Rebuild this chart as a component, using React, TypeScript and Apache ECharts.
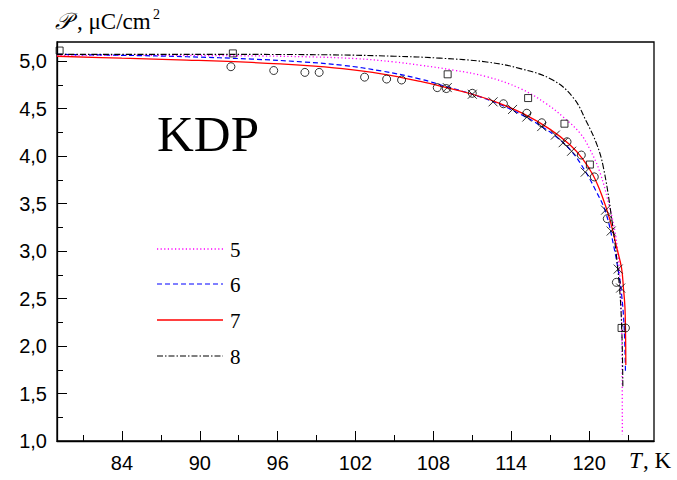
import React, { useEffect, useRef } from "react";
import * as echarts from "echarts";

// Curve 5 (magenta dotted)
const t5 = [79, 86, 93, 98, 102, 105, 107, 109.5, 112.1, 114.7, 116.7, 118, 119.3, 120.06, 120.83, 121.6, 122.0, 122.24, 122.4, 122.5, 122.55, 122.56];
const p5 = [5.06, 5.06, 5.055, 5.045, 5.025, 4.99, 4.955, 4.905, 4.835, 4.71, 4.55, 4.41, 4.24, 4.07, 3.83, 3.45, 3.2, 2.94, 2.65, 2.31, 1.61, 1.07];
// Curve 6 (blue dashed)
const t6 = [79, 84, 89, 94, 98, 101, 104, 107, 109, 111, 113, 115, 116.35, 117.4, 118.65, 119.7, 120.5, 121.27, 121.9, 122.3, 122.5, 122.7, 122.8];
const p6 = [5.07, 5.06, 5.045, 5.02, 4.99, 4.955, 4.895, 4.81, 4.73, 4.65, 4.55, 4.42, 4.31, 4.21, 4.05, 3.84, 3.64, 3.41, 3.05, 2.75, 2.55, 2.2, 1.73];
// Curve 7 (red solid)
const t7 = [79, 84, 89, 94, 98, 101, 104, 107, 109, 111, 113, 115, 117, 118.5, 119.5, 120.3, 121.0, 121.6, 122.1, 122.5, 122.65, 122.76, 122.81, 122.83];
const p7 = [5.05, 5.03, 5.01, 4.985, 4.955, 4.92, 4.865, 4.785, 4.72, 4.65, 4.56, 4.44, 4.28, 4.12, 3.97, 3.8, 3.58, 3.33, 3.05, 2.82, 2.6, 2.41, 2.1, 1.8];
// Curve 8 (black dash-dot)
const t8 = [79, 90, 100, 105, 108.5, 112.1, 114.7, 117.2, 118.8, 119.8, 120.6, 121.1, 121.7, 122.24, 122.5, 122.6];
const p8 = [5.07, 5.07, 5.065, 5.05, 5.03, 4.99, 4.92, 4.8, 4.61, 4.36, 4.12, 3.88, 3.38, 2.77, 2.24, 1.57];

// Experimental points
const squaresT = [79.2, 92.55, 109.1, 115.3, 118.1, 120.06, 122.5];
const squaresP = [5.11, 5.08, 4.86, 4.61, 4.34, 3.91, 2.19];
const circlesT = [92.4, 95.7, 98.1, 99.2, 102.7, 104.4, 105.55, 108.3, 109.0, 111.0, 113.4, 115.2, 116.35, 118.3, 119.4, 120.4, 121.4, 122.1, 122.8];
const circlesP = [4.94, 4.9, 4.88, 4.88, 4.83, 4.81, 4.8, 4.72, 4.71, 4.66, 4.55, 4.45, 4.35, 4.15, 4.01, 3.78, 3.34, 2.67, 2.19];
const crossesT = [109.07, 111.0, 112.6, 114.1, 115.2, 116.35, 117.4, 118.0, 118.65, 119.7, 121.27, 121.7, 122.24, 122.43];
const crossesP = [4.72, 4.65, 4.57, 4.49, 4.41, 4.31, 4.22, 4.14, 4.05, 3.83, 3.43, 3.21, 2.81, 2.61];

// Axis ticks / labels
const xMajor = [84, 90, 96, 102, 108, 114, 120];
const xMinor = [81, 87, 93, 99, 105, 111, 117, 123];
const yMajor = [1.0, 1.5, 2.0, 2.5, 3.0, 3.5, 4.0, 4.5, 5.0];
const yMinor = [1.25, 1.75, 2.25, 2.75, 3.25, 3.75, 4.25, 4.75];
const legendNames = ["5", "6", "7", "8"];

const zip = (a: number[], b: number[]) => a.map((v, i) => [v, b[i]]);

const SERIF = "'Liberation Serif', 'Times New Roman', serif";
const SANS = "'Liberation Sans', Arial, sans-serif";

export default function App() {
  const ref = useRef<HTMLDivElement>(null);
  useEffect(() => {
    if (!ref.current) return;
    const chart = echarts.init(ref.current, undefined, { renderer: "svg" });
    const lineCommon = { type: "line", showSymbol: false, smooth: 0.4, z: 2 };
    const styles = [
      { color: "#ff00ff", type: [1.2, 2.4], width: 1.3 },
      { color: "#0000ff", type: [5, 3], width: 1.2 },
      { color: "#ff0000", type: "solid", width: 1.3 },
      { color: "#000000", type: [6, 2, 1.5, 2], width: 1.1 },
    ];
    const legendY = [249, 284, 320, 356];
    const option: any = {
      animation: false,
      backgroundColor: "#fff",
      grid: { left: 57, right: 23, top: 42, bottom: 39, show: true, borderColor: "#000", borderWidth: 1.3, backgroundColor: "transparent" },
      xAxis: [
        {
          type: "value", min: 79, max: 125, position: "bottom",
          axisLine: { show: true, lineStyle: { color: "#000", width: 1.3 } },
          axisTick: { show: true, inside: true, length: 10, customValues: xMajor, lineStyle: { color: "#000", width: 1 } },
          axisLabel: { customValues: xMajor, fontSize: 20, fontFamily: SANS, color: "#000", margin: 12 },
          splitLine: { show: false },
        },
        {
          type: "value", min: 79, max: 125, position: "bottom",
          axisLine: { show: false },
          axisTick: { show: true, inside: true, length: 6, customValues: xMinor, lineStyle: { color: "#000", width: 1 } },
          axisLabel: { show: false },
          splitLine: { show: false },
        },
      ],
      yAxis: [
        {
          type: "value", min: 1.0, max: 5.2, position: "left",
          axisLine: { show: true, lineStyle: { color: "#000", width: 1.3 } },
          axisTick: { show: true, inside: true, length: 10, customValues: yMajor, lineStyle: { color: "#000", width: 1 } },
          axisLabel: { customValues: yMajor, fontSize: 20, fontFamily: SANS, color: "#000", margin: 10, formatter: (v: number) => v.toFixed(1).replace(".", ",") },
          splitLine: { show: false },
        },
        {
          type: "value", min: 1.0, max: 5.2, position: "left",
          axisLine: { show: false },
          axisTick: { show: true, inside: true, length: 6, customValues: yMinor, lineStyle: { color: "#000", width: 1 } },
          axisLabel: { show: false },
          splitLine: { show: false },
        },
      ],
      series: [
        { ...lineCommon, name: "5", data: zip(t5, p5), lineStyle: styles[0] },
        { ...lineCommon, name: "6", data: zip(t6, p6), lineStyle: styles[1] },
        { ...lineCommon, name: "7", data: zip(t7, p7), lineStyle: styles[2] },
        { ...lineCommon, name: "8", data: zip(t8, p8), lineStyle: styles[3] },
        {
          type: "scatter", data: zip(squaresT, squaresP), symbol: "rect", symbolSize: 7, z: 3,
          itemStyle: { color: "transparent", borderColor: "#000", borderWidth: 1 },
        },
        {
          type: "scatter", data: zip(circlesT, circlesP), symbol: "circle", symbolSize: 8, z: 3,
          itemStyle: { color: "transparent", borderColor: "#000", borderWidth: 1 },
        },
        {
          type: "scatter", data: zip(crossesT, crossesP), symbol: "path://M0,0L10,10M0,10L10,0", symbolSize: 9, z: 3,
          itemStyle: { color: "transparent", borderColor: "#000", borderWidth: 1 },
        },
      ],
      graphic: [
        { type: "text", x: 55, y: 21, style: { text: "𝒫", font: `italic 23px ${SERIF}`, fill: "#000", verticalAlign: "middle" } },
        { type: "text", x: 77, y: 21, style: { text: ", μC/cm", font: `23px ${SERIF}`, fill: "#000", verticalAlign: "middle" } },
        { type: "text", x: 153, y: 14, style: { text: "2", font: `14px ${SERIF}`, fill: "#000", verticalAlign: "middle" } },
        { type: "text", x: 157, y: 134, style: { text: "KDP", font: `51px ${SERIF}`, fill: "#000", verticalAlign: "middle" } },
        { type: "text", x: 629, y: 460, style: { text: "T", font: `italic 23px ${SERIF}`, fill: "#000", verticalAlign: "middle" } },
        { type: "text", x: 643, y: 460, style: { text: ", K", font: `23px ${SERIF}`, fill: "#000", verticalAlign: "middle" } },
        ...legendNames.flatMap((n, i) => [
          {
            type: "line", shape: { x1: 157, y1: legendY[i], x2: 223, y2: legendY[i] },
            style: { stroke: styles[i].color, lineWidth: styles[i].width, lineDash: typeof styles[i].type === "string" ? null : styles[i].type },
          },
          { type: "text", x: 230, y: legendY[i] + 1, style: { text: n, font: `21px ${SERIF}`, fill: "#000", verticalAlign: "middle" } },
        ]),
      ],
    };
    chart.setOption(option);
    return () => chart.dispose();
  }, []);
  return <div ref={ref} style={{ position: "fixed", left: 0, top: 0, width: 677, height: 480, background: "#fff" }} />;
}
